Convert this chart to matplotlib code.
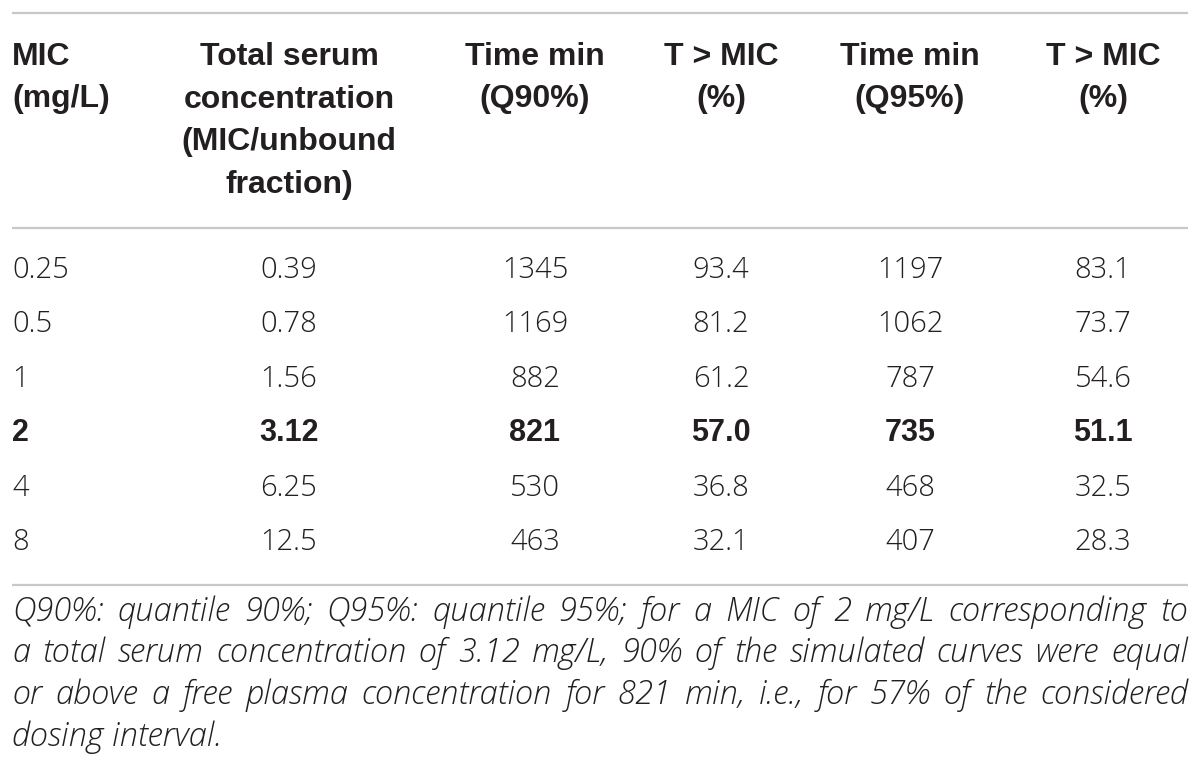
import matplotlib
matplotlib.use("Agg")
import matplotlib.pyplot as plt

mic = ["0.25", "0.5", "1", "2", "4", "8"]
total_serum = ["0.39", "0.78", "1.56", "3.12", "6.25", "12.5"]
time_q90 = ["1345", "1169", "882", "821", "530", "463"]
tmic_q90 = ["93.4", "81.2", "61.2", "57.0", "36.8", "32.1"]
time_q95 = ["1197", "1062", "787", "735", "468", "407"]
tmic_q95 = ["83.1", "73.7", "54.6", "51.1", "32.5", "28.3"]
bold_row = "2"

headers = [
    ["MIC", "(mg/L)"],
    ["Total serum", "concentration", "(MIC/unbound", "fraction)"],
    ["Time min", "(Q90%)"],
    ["T > MIC", "(%)"],
    ["Time min", "(Q95%)"],
    ["T > MIC", "(%)"],
]
footnote_lines = [
    "Q90%: quantile 90%; Q95%: quantile 95%; for a MIC of 2 mg/L corresponding to",
    "a total serum concentration of 3.12 mg/L, 90% of the simulated curves were equal",
    "or above a free plasma concentration for 821 min, i.e., for 57% of the considered",
    "dosing interval.",
]

BOLD_FONT = ["Liberation Sans", "DejaVu Sans"]
LIGHT_FONT = ["Open Sans", "Liberation Sans", "DejaVu Sans"]

fig = plt.figure(figsize=(12, 7.7), dpi=100)
ax = fig.add_axes([0, 0, 1, 1])
ax.set_xlim(0, 1200)
ax.set_ylim(770, 0)
ax.axis("off")

txt_col = "#231f20"
line_col = "#c8c8c8"
for y in (13, 228, 585):
    ax.plot([12, 1188], [y, y], color=line_col, lw=1.6, solid_capstyle="butt")

col_x = [12, 289, 535, 721, 910, 1103]
col_ha = ["left", "center", "center", "center", "center", "center"]

# headers
for hx, ha, lines in zip(col_x, col_ha, headers):
    for i, t in enumerate(lines):
        ax.text(hx, 65 + i * 42.5, t, ha=ha, va="baseline", fontsize=23,
                fontweight="bold", family=BOLD_FONT, color=txt_col)

cols = [mic, total_serum, time_q90, tmic_q90, time_q95, tmic_q95]
for r in range(len(mic)):
    y = 278 + r * 54.4
    bold = mic[r] == bold_row
    for c, (cx, ha) in enumerate(zip(col_x, col_ha)):
        if bold:
            ax.text(cx, y, cols[c][r], ha=ha, va="baseline", fontsize=22,
                    fontweight="bold", family=BOLD_FONT, color=txt_col)
        else:
            ax.text(cx, y, cols[c][r], ha=ha, va="baseline", fontsize=21,
                    fontweight=300, family=LIGHT_FONT, color=txt_col)

# footnote (justified like the reference)
FN_SIZE = 23.5
fn_kw = dict(fontsize=FN_SIZE, style="italic", fontweight=300,
             family=LIGHT_FONT, color=txt_col)
fig.canvas.draw()
renderer = fig.canvas.get_renderer()
left, right = 12, 1188
for i, line in enumerate(footnote_lines):
    y = 621 + i * 41.5
    words = line.split(" ")
    last = i == len(footnote_lines) - 1
    if last:
        ax.text(left, y, line, ha="left", va="baseline", **fn_kw)
        continue
    widths = []
    for w in words:
        t = ax.text(0, 0, w, **fn_kw)
        bb = t.get_window_extent(renderer=renderer)
        widths.append(bb.width)
        t.remove()
    gap = (right - left - sum(widths)) / (len(words) - 1)
    x = left
    for w, wd in zip(words, widths):
        ax.text(x, y, w, ha="left", va="baseline", **fn_kw)
        x += wd + gap

fig.savefig("out.png", dpi=100)
